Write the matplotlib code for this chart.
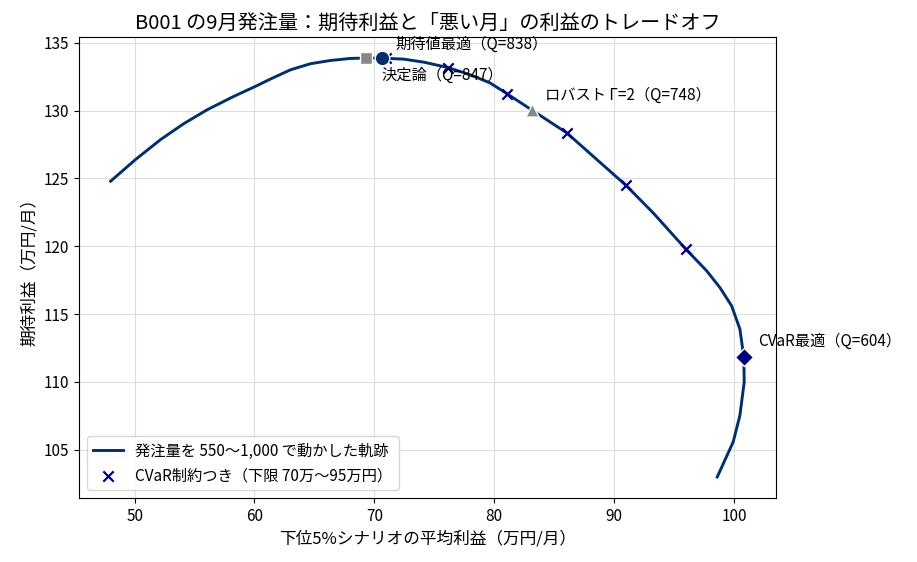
import numpy as np
import matplotlib
matplotlib.use('Agg')
import matplotlib.pyplot as plt

plt.rcParams['font.family'] = ['Noto Sans CJK JP', 'DejaVu Sans']

# trajectory as order quantity goes 1,000 -> 550 (left end -> bottom end)
tail_profit = [48.0, 50.08, 52.17, 54.1, 56.06, 58.27, 60.08, 61.33, 63.0, 64.67, 66.33,
               68.0, 69.33, 70.64, 72.44, 74.1, 76.14, 78.0, 79.67, 81.1, 83.19,
               86.06, 88.56, 91.0, 93.28, 96.0, 97.72, 98.83, 99.81, 100.5, 100.83,
               100.86, 100.5, 99.94, 98.61]
exp_profit = [124.8, 126.4, 127.87, 129.04, 130.07, 131.05, 131.79, 132.33, 133.01, 133.46, 133.7,
              133.85, 133.88, 133.87, 133.8, 133.58, 133.18, 132.65, 132.04, 131.23, 130.02,
              128.36, 126.4, 124.49, 122.45, 119.78, 118.2, 116.96, 115.61, 113.9, 111.82,
              109.98, 107.52, 105.57, 102.99]

# CVaR-constrained optima (lower limit 70..95)
cvar_tail = [71.0, 76.14, 81.1, 86.06, 91.0, 96.0]
cvar_exp = [133.85, 133.18, 131.23, 128.36, 124.49, 119.78]

# highlighted solutions
det_pt = (69.33, 133.87)    # Q=847
ev_pt = (70.64, 133.87)     # Q=838
rob_pt = (83.19, 130.02)    # Q=748
cv_pt = (100.83, 111.82)    # Q=604

line_c = '#002f6c'

fig = plt.figure(figsize=(9.17, 5.62), dpi=100)
ax = fig.add_axes([0.0861, 0.114, 0.760, 0.820])

ax.plot(tail_profit, exp_profit, c=line_c, linewidth=2.1, zorder=2,
        label='発注量を 550〜1,000 で動かした軌跡')
ax.scatter(cvar_tail, cvar_exp, marker='x', c='#000080', s=55, linewidths=1.6, zorder=3,
           label='CVaR制約つき（下限 70万〜95万円）')

ax.scatter([det_pt[0]], [det_pt[1]], marker='s', c='#888888', s=85, edgecolors='white', linewidths=1, zorder=4)
ax.scatter([ev_pt[0]], [ev_pt[1]], marker='o', c=line_c, s=110, edgecolors='white', linewidths=1, zorder=5)
ax.scatter([rob_pt[0]], [rob_pt[1]], marker='^', c='#888888', s=90, edgecolors='white', linewidths=1, zorder=4)
ax.scatter([cv_pt[0]], [cv_pt[1]], marker='D', c='#000080', s=85, edgecolors='white', linewidths=1, zorder=4)

ax.annotate('期待値最適（Q=838）', ev_pt, xytext=(10, 4), textcoords='offset points',
            ha='left', va='bottom', fontsize=11)
ax.annotate('決定論（Q=847）', det_pt, xytext=(11, -6), textcoords='offset points',
            ha='left', va='top', fontsize=11)
ax.annotate('ロバスト Γ=2（Q=748）', rob_pt, xytext=(9, 5), textcoords='offset points',
            ha='left', va='bottom', fontsize=11)
ax.annotate('CVaR最適（Q=604）', cv_pt, xytext=(10, 5), textcoords='offset points',
            ha='left', va='bottom', fontsize=11)

ax.set_title('B001 の9月発注量：期待利益と「悪い月」の利益のトレードオフ', fontsize=14.5)
ax.set_xlabel('下位5%シナリオの平均利益（万円/月）', fontsize=12)
ax.set_ylabel('期待利益（万円/月）', fontsize=12)
ax.tick_params(labelsize=11)
ax.grid(True, color='#dddddd', linewidth=0.8)
ax.set_axisbelow(True)
ax.legend(loc='lower left', fontsize=11)

fig.savefig('out.png', dpi=100)
